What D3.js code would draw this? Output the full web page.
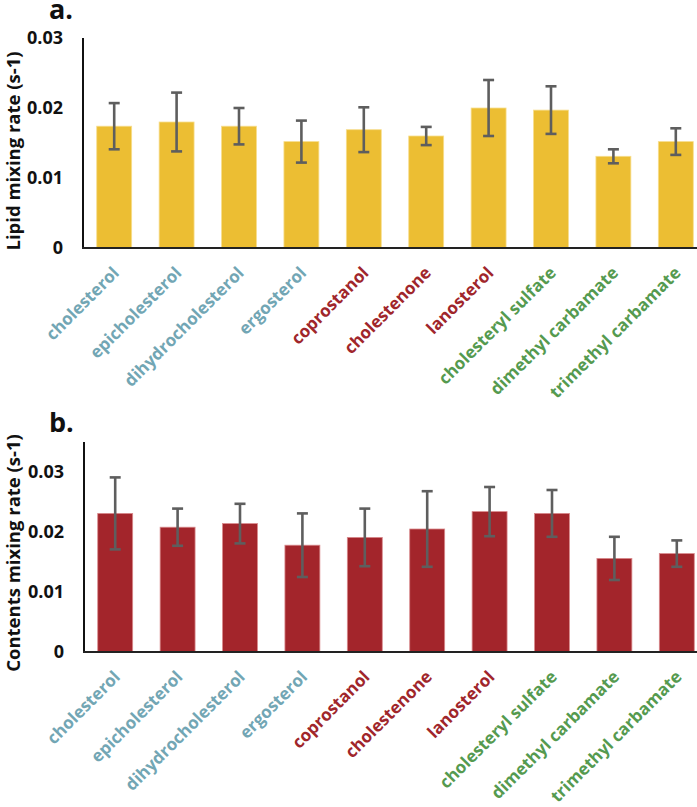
<!DOCTYPE html>
<html><head><meta charset="utf-8">
<script src="https://cdn.jsdelivr.net/npm/d3@7"></script>
<style>
html,body{margin:0;padding:0;background:#fff;}
svg{display:block;font-family:"Open Sans",Lato,sans-serif;}
</style></head>
<body>
<svg id="chart" width="697" height="807"></svg>
<script>
const categories = ["cholesterol","epicholesterol","dihydrocholesterol","ergosterol","coprostanol","cholestenone","lanosterol","cholesteryl sulfate","dimethyl carbamate","trimethyl carbamate"];
const categoryGroups = ["blue","blue","blue","blue","red","red","red","green","green","green"];
const lipidValues = [0.0174,0.0180,0.0174,0.0152,0.0169,0.0160,0.0200,0.0197,0.0131,0.0152];
const lipidErrors = [0.0033,0.0042,0.0026,0.0030,0.0032,0.0013,0.0040,0.0034,0.0010,0.0019];
const contentsValues = [0.0231,0.0208,0.0214,0.0178,0.0191,0.0205,0.0234,0.0231,0.0156,0.0164];
const contentsErrors = [0.0060,0.0031,0.0033,0.0053,0.0048,0.0063,0.0041,0.0039,0.0036,0.0022];
const yTicks = [0,0.01,0.02,0.03];
const tickLabels = ["0","0.01","0.02","0.03"];

const groupColors = {blue:"#72A6B4", red:"#A0262B", green:"#559A4F"};
const svg = d3.select("#chart");

function panel(opt){
  const g = svg.append("g");
  const x = d3.scaleBand().domain(categories).range([opt.x0, opt.x0 + 624]).paddingInner(0.44).paddingOuter(0.22);
  const y = d3.scaleLinear().domain([0, opt.ymax]).range([opt.y0, opt.yTop]);

  g.selectAll("rect.bar").data(opt.values).join("rect")
    .attr("class","bar")
    .attr("x",(d,i)=>x(categories[i]))
    .attr("width",x.bandwidth())
    .attr("y",d=>y(d))
    .attr("height",d=>y(0)-y(d))
    .attr("fill",opt.color)
    .attr("stroke",opt.stroke).attr("stroke-width",0.8);

  const eb = g.selectAll("g.err").data(opt.values).join("g").attr("class","err")
    .attr("stroke","#5E5E5E").attr("stroke-width",2.6);
  eb.append("line")
    .attr("x1",(d,i)=>x(categories[i])+x.bandwidth()/2)
    .attr("x2",(d,i)=>x(categories[i])+x.bandwidth()/2)
    .attr("y1",(d,i)=>y(d+opt.errors[i]))
    .attr("y2",(d,i)=>y(d-opt.errors[i]));
  [1,-1].forEach(s=>{
    eb.append("line")
      .attr("x1",(d,i)=>x(categories[i])+x.bandwidth()/2-5.5)
      .attr("x2",(d,i)=>x(categories[i])+x.bandwidth()/2+5.5)
      .attr("y1",(d,i)=>y(d+s*opt.errors[i]))
      .attr("y2",(d,i)=>y(d+s*opt.errors[i]));
  });

  g.append("line").attr("x1",opt.x0).attr("x2",opt.x0).attr("y1",opt.yTop).attr("y2",y(0)+1)
    .attr("stroke","#111").attr("stroke-width",2);
  g.append("line").attr("x1",opt.x0-1).attr("x2",697).attr("y1",y(0)).attr("y2",y(0))
    .attr("stroke","#222").attr("stroke-width",2.2);

  g.selectAll("text.tick").data(yTicks).join("text")
    .attr("class","tick")
    .attr("x",opt.x0-20).attr("y",d=>y(d)).attr("dy","0.36em")
    .attr("text-anchor","end").attr("font-weight","bold").attr("font-size",18)
    .attr("fill","#111")
    .text((d,i)=>tickLabels[i]);

  g.selectAll("text.cat").data(categories).join("text")
    .attr("class","cat")
    .attr("transform",d=>`translate(${x(d)+x.bandwidth()/2+6},${y(0)+26}) rotate(-45)`)
    .attr("text-anchor","end").attr("font-weight","bold").attr("font-size",17)
    .attr("fill",(d,i)=>groupColors[categoryGroups[i]])
    .text(d=>d);

  g.append("text")
    .attr("transform",`translate(20,${opt.labelY}) rotate(-90)`)
    .attr("text-anchor","middle").attr("font-weight","bold").attr("font-size",18.5)
    .attr("fill","#111")
    .text(opt.ylabel);

  g.append("text").attr("x",49).attr("y",opt.letterY)
    .attr("font-weight","bold").attr("font-size",27).attr("fill","#111")
    .text(opt.letter);
}

panel({x0:83, y0:248, yTop:38, ymax:0.03, values:lipidValues, errors:lipidErrors,
  color:"#ECBE33", stroke:"#F7DE8E", ylabel:"Lipid mixing rate (s-1)", labelY:151, letter:"a.", letterY:19});
panel({x0:84, y0:652, yTop:442, ymax:0.035, values:contentsValues, errors:contentsErrors,
  color:"#A3252B", stroke:"#D98A8D", ylabel:"Contents mixing rate (s-1)", labelY:553, letter:"b.", letterY:432});
</script>
</body></html>
